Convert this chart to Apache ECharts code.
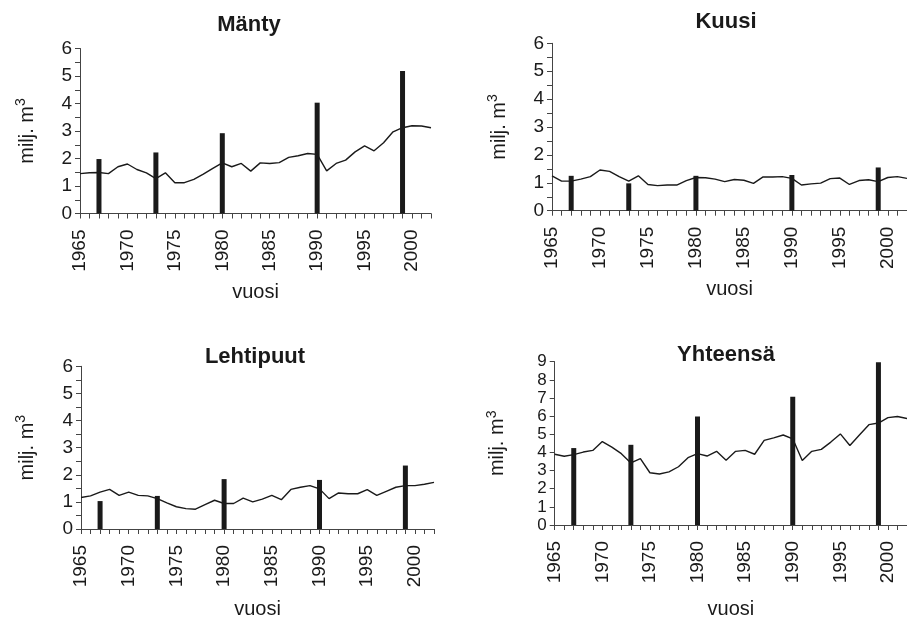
<!DOCTYPE html>
<html>
<head>
<meta charset="utf-8">
<script src="https://cdn.jsdelivr.net/npm/echarts@6/dist/echarts.min.js"></script>
<style>
  html,body{margin:0;padding:0;background:#fff;}
  #chart{width:907px;height:620px;}
</style>
</head>
<body>
<div id="chart"></div>
<script>
// vuodet 1965-2002
var years = [];
for (var y = 1965; y <= 2002; y++) years.push(y);

var titles = ['Mänty', 'Kuusi', 'Lehtipuut', 'Yhteensä'];

// vuosittainen käyttö (viiva)
var manty = [1.45,1.48,1.49,1.45,1.7,1.8,1.6,1.48,1.27,1.48,1.12,1.12,1.24,1.43,1.64,1.84,
  1.7,1.82,1.54,1.84,1.82,1.85,2.04,2.1,2.18,2.15,1.55,1.82,1.94,2.24,2.46,2.28,2.57,2.97,3.12,3.19,3.18,3.12];
var kuusi = [1.25,1.06,1.06,1.13,1.22,1.46,1.41,1.22,1.06,1.25,0.94,0.9,0.92,0.92,1.08,1.19,
  1.18,1.13,1.04,1.12,1.09,0.98,1.21,1.21,1.22,1.16,0.92,0.96,0.99,1.15,1.17,0.94,1.08,1.11,1.04,1.19,1.22,1.16];
var lehti = [1.16,1.22,1.36,1.46,1.24,1.36,1.24,1.22,1.12,0.96,0.82,0.75,0.73,0.9,1.06,0.94,
  0.94,1.14,1.0,1.1,1.24,1.08,1.46,1.54,1.6,1.48,1.12,1.33,1.3,1.3,1.45,1.24,1.39,1.54,1.6,1.6,1.65,1.72];
var yht = [3.9,3.79,3.88,4.02,4.11,4.6,4.29,3.93,3.42,3.66,2.88,2.81,2.93,3.21,3.71,3.93,
  3.8,4.06,3.57,4.06,4.11,3.9,4.66,4.8,4.96,4.75,3.55,4.06,4.17,4.57,5.02,4.38,4.96,5.53,5.62,5.92,5.98,5.87];

// inventointivuodet (pylväät)
var barYears = [1967, 1973, 1980, 1990, 1999];
var mantyBars = [1.98, 2.22, 2.92, 4.03, 5.18];
var kuusiBars = [1.25, 0.98, 1.25, 1.28, 1.55];
var lehtiBars = [1.03, 1.22, 1.84, 1.81, 2.34];
var yhtBars = [4.24, 4.42, 5.98, 7.07, 8.97];

var yMax = [6, 6, 6, 9];

var lines = [manty, kuusi, lehti, yht];
var bars = [mantyBars, kuusiBars, lehtiBars, yhtBars];

var grids = [
  {left: 80, top: 48.5, width: 351, height: 165},
  {left: 552, top: 43.3, width: 356, height: 167.4},
  {left: 81, top: 366.3, width: 353, height: 164.4},
  {left: 554.7, top: 361.7, width: 355, height: 165.6}
];
var titlePos = [[244, 9], [721, 6], [250, 341], [721, 339]];
var xNameGap = [69, 69, 70, 74];
var yNameGap = [40, 40, 41, 44];
var yLabelSize = [19, 19, 19, 17];

var font = 'Liberation Sans, Arial, sans-serif';
var ink = '#1a1a1a';

function pairs(xs, vs){
  var out = [];
  for (var i = 0; i < vs.length; i++) out.push([xs[i], vs[i]]);
  return out;
}

var title = [], xAxis = [], yAxis = [], series = [];
for (var i = 0; i < 4; i++) {
  title.push({
    text: titles[i], left: titlePos[i][0], top: titlePos[i][1], textAlign: 'center',
    textStyle: {fontFamily: font, fontSize: 22, fontWeight: 'bold', color: ink}
  });
  xAxis.push({
    gridIndex: i, type: 'value', min: 1965, max: 2002, interval: 1,
    name: 'vuosi', nameLocation: 'middle', nameGap: xNameGap[i],
    nameTextStyle: {fontFamily: font, fontSize: 20, color: ink},
    axisLine: {lineStyle: {color: '#444', width: 1}},
    axisTick: {show: true, length: 5, lineStyle: {color: '#444'}},
    splitLine: {show: false},
    axisLabel: {
      rotate: 90, margin: 16, fontFamily: font, fontSize: 19, color: ink,
      formatter: function(v){ return v % 5 === 0 ? String(v) : ''; }
    }
  });
  yAxis.push({
    gridIndex: i, type: 'value', min: 0, max: yMax[i], interval: 1,
    name: 'milj. m{sup|3}', nameLocation: 'middle', nameGap: yNameGap[i], nameRotate: 90,
    nameTextStyle: {
      fontFamily: font, fontSize: 20, color: ink, lineHeight: 26,
      rich: {sup: {fontFamily: font, fontSize: 14, color: ink, verticalAlign: 'top', lineHeight: 26}}
    },
    axisLine: {show: true, lineStyle: {color: '#444', width: 1}},
    axisTick: {show: true, length: 5, lineStyle: {color: '#444'}},
    minorTick: {show: i < 3, splitNumber: 2, length: 5, lineStyle: {color: '#444'}},
    splitLine: {show: false},
    axisLabel: {
      margin: 8, fontFamily: font, fontSize: yLabelSize[i], color: ink, lineHeight: 16,
      showMinLabel: true, showMaxLabel: true, hideOverlap: false
    }
  });
  series.push({
    type: 'bar', xAxisIndex: i, yAxisIndex: i, barWidth: 5,
    itemStyle: {color: ink}, data: pairs(barYears, bars[i])
  });
  series.push({
    type: 'line', xAxisIndex: i, yAxisIndex: i, symbol: 'none',
    lineStyle: {color: ink, width: 1.4}, data: pairs(years, lines[i])
  });
}

var chart = echarts.init(document.getElementById('chart'));
chart.setOption({
  animation: false,
  backgroundColor: '#fff',
  title: title,
  grid: grids,
  xAxis: xAxis,
  yAxis: yAxis,
  series: series
});
</script>
</body>
</html>
